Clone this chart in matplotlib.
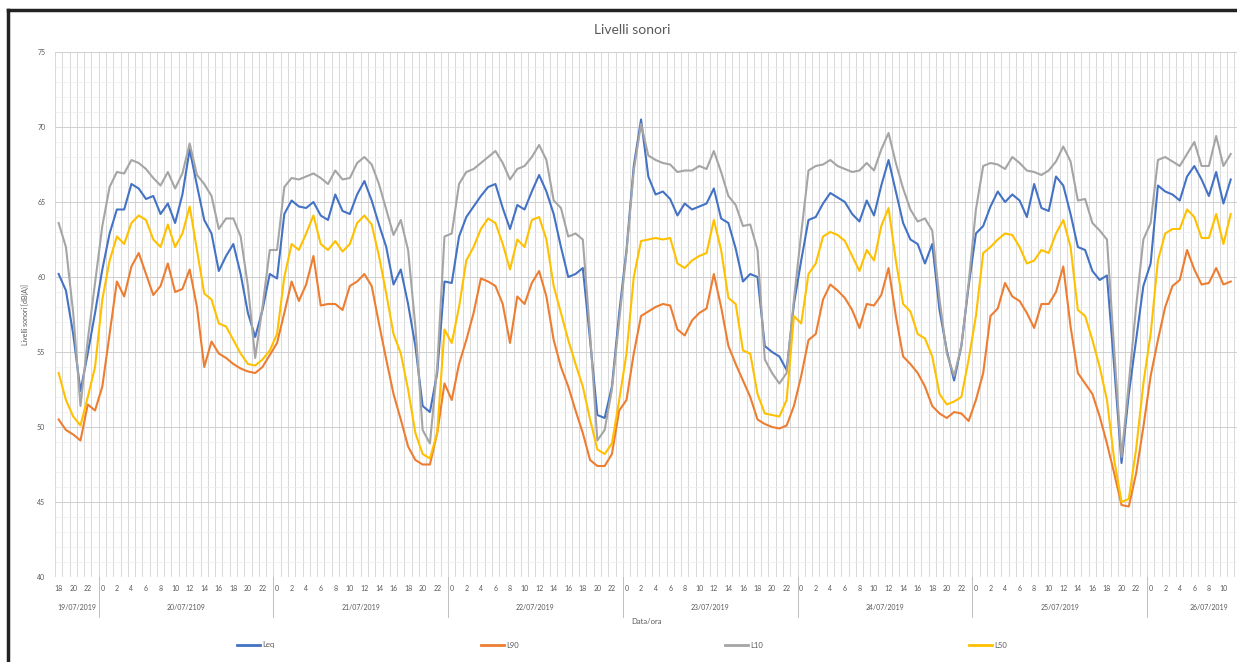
import matplotlib
matplotlib.use("Agg")
import matplotlib.pyplot as plt
import matplotlib.transforms as mtransforms
from matplotlib.lines import Line2D

plt.rcParams['font.family'] = ['Lato', 'DejaVu Sans']

# ---------------- data ----------------
series_names = ["Leq", "L90", "L10", "L50"]
series_colors = ["#4472C4", "#ED7D31", "#A5A5A5", "#FFC000"]

day_labels = ["19/07/2019", "20/07/2109", "21/07/2019", "22/07/2019",
              "23/07/2019", "24/07/2019", "25/07/2019", "26/07/2019"]
day_first_hour = [18, 0, 0, 0, 0, 0, 0, 0]
day_last_hour = [23, 23, 23, 23, 23, 23, 23, 16]

leq = [60.2, 59.1, 56.2, 52.4, 54.9, 57.6, 60.5, 62.9, 64.5, 64.5, 66.2, 65.9, 65.2, 65.4, 64.2, 64.9,
       63.6, 65.5, 68.5, 66.1, 63.8, 62.9, 60.4, 61.4, 62.2, 60.2, 57.6, 56.0, 57.8, 60.2, 59.9, 64.2,
       65.1, 64.7, 64.6, 65.0, 64.1, 63.8, 65.5, 64.4, 64.2, 65.5, 66.4, 65.1, 63.5, 62.0, 59.5, 60.5,
       58.2, 55.4, 51.4, 51.0, 53.6, 59.7, 59.6, 62.7, 64.0, 64.7, 65.4, 66.0, 66.2, 64.6, 63.2, 64.8,
       64.5, 65.7, 66.8, 65.7, 64.2, 62.0, 60.0, 60.2, 60.6, 55.8, 50.8, 50.6, 52.7, 57.6, 61.8, 67.4,
       70.5, 66.7, 65.5, 65.7, 65.2, 64.1, 64.9, 64.5, 64.7, 64.9, 65.9, 63.9, 63.6, 61.9, 59.7, 60.2,
       60.0, 55.4, 55.0, 54.7, 53.8, 58.2, 61.1, 63.8, 64.0, 64.9, 65.6, 65.3, 65.0, 64.2, 63.7, 65.1,
       64.1, 66.1, 67.8, 65.7, 63.6, 62.5, 62.2, 60.9, 62.2, 57.8, 55.1, 53.1, 55.4, 59.4, 62.9, 63.4,
       64.7, 65.7, 65.0, 65.5, 65.1, 64.0, 66.2, 64.6, 64.4, 66.7, 66.1, 64.2, 62.0, 61.8, 60.4, 59.8,
       60.1, 54.0, 47.6, 52.2, 55.8, 59.4, 60.9, 66.1, 65.7, 65.5, 65.1, 66.7, 67.4, 66.5, 65.4, 67.0,
       64.9, 66.5]

l90 = [50.5, 49.8, 49.5, 49.1, 51.5, 51.1, 52.7, 56.2, 59.7, 58.7, 60.7, 61.6, 60.2, 58.8, 59.4, 60.9,
       59.0, 59.2, 60.5, 58.0, 54.0, 55.7, 54.9, 54.6, 54.2, 53.9, 53.7, 53.6, 54.0, 54.8, 55.6, 57.6,
       59.7, 58.4, 59.5, 61.4, 58.1, 58.2, 58.2, 57.8, 59.4, 59.7, 60.2, 59.4, 56.9, 54.5, 52.2, 50.5,
       48.7, 47.8, 47.5, 47.5, 49.6, 52.9, 51.8, 54.2, 55.8, 57.6, 59.9, 59.7, 59.4, 58.2, 55.6, 58.7,
       58.2, 59.6, 60.4, 58.7, 55.8, 54.0, 52.7, 51.1, 49.6, 47.8, 47.4, 47.4, 48.2, 51.1, 51.8, 54.9,
       57.4, 57.7, 58.0, 58.2, 58.1, 56.5, 56.1, 57.1, 57.6, 57.9, 60.2, 58.0, 55.4, 54.2, 53.1, 52.0,
       50.5, 50.2, 50.0, 49.9, 50.1, 51.4, 53.4, 55.8, 56.2, 58.5, 59.5, 59.1, 58.6, 57.8, 56.6, 58.2,
       58.1, 58.8, 60.6, 57.4, 54.7, 54.2, 53.6, 52.7, 51.4, 50.9, 50.6, 51.0, 50.9, 50.4, 51.8, 53.6,
       57.4, 57.9, 59.6, 58.7, 58.4, 57.6, 56.6, 58.2, 58.2, 59.0, 60.7, 56.7, 53.6, 52.9, 52.2, 50.7,
       48.9, 46.9, 44.8, 44.7, 46.9, 50.0, 53.4, 55.8, 58.0, 59.4, 59.8, 61.8, 60.5, 59.5, 59.6, 60.6,
       59.5, 59.7]

l10 = [63.6, 62.0, 57.6, 51.4, 55.8, 59.6, 63.4, 66.0, 67.0, 66.9, 67.8, 67.6, 67.2, 66.6, 66.1, 67.0,
       65.9, 66.9, 68.9, 66.8, 66.2, 65.4, 63.2, 63.9, 63.9, 62.7, 59.4, 54.6, 58.0, 61.8, 61.8, 66.0,
       66.6, 66.5, 66.7, 66.9, 66.6, 66.2, 67.1, 66.5, 66.6, 67.6, 68.0, 67.5, 66.2, 64.5, 62.8, 63.8,
       61.8, 56.7, 49.8, 48.9, 54.0, 62.7, 62.9, 66.2, 67.0, 67.2, 67.6, 68.0, 68.4, 67.6, 66.5, 67.2,
       67.4, 68.0, 68.8, 67.8, 65.1, 64.6, 62.7, 62.9, 62.5, 56.2, 49.1, 49.8, 52.5, 57.1, 61.6, 67.1,
       70.2, 68.1, 67.8, 67.6, 67.5, 67.0, 67.1, 67.1, 67.4, 67.2, 68.4, 67.0, 65.4, 64.8, 63.4, 63.5,
       61.8, 54.5, 53.6, 52.9, 53.6, 58.5, 62.9, 67.1, 67.4, 67.5, 67.8, 67.4, 67.2, 67.0, 67.1, 67.6,
       67.1, 68.5, 69.6, 67.6, 65.9, 64.5, 63.7, 63.9, 63.1, 58.5, 54.9, 53.4, 55.4, 59.6, 64.5, 67.4,
       67.6, 67.5, 67.2, 68.0, 67.6, 67.1, 67.0, 66.8, 67.1, 67.7, 68.7, 67.7, 65.1, 65.2, 63.6, 63.1,
       62.5, 55.1, 48.0, 52.9, 58.0, 62.5, 63.6, 67.8, 68.0, 67.7, 67.4, 68.2, 69.0, 67.4, 67.4, 69.4,
       67.4, 68.2]

l50 = [53.6, 51.8, 50.7, 50.1, 52.0, 54.0, 58.5, 61.1, 62.7, 62.2, 63.6, 64.1, 63.8, 62.5, 62.0, 63.5,
       62.0, 62.9, 64.7, 61.8, 58.9, 58.5, 56.9, 56.7, 55.8, 54.9, 54.2, 54.1, 54.5, 55.1, 56.2, 60.0,
       62.2, 61.8, 62.9, 64.1, 62.2, 61.8, 62.4, 61.7, 62.2, 63.6, 64.1, 63.5, 61.4, 58.9, 56.2, 54.9,
       52.5, 49.6, 48.2, 47.9, 49.6, 56.5, 55.6, 58.0, 61.1, 62.0, 63.2, 63.9, 63.6, 62.2, 60.5, 62.5,
       62.0, 63.8, 64.0, 62.5, 59.4, 57.6, 55.8, 54.2, 52.7, 50.5, 48.5, 48.2, 48.9, 51.8, 54.9, 60.0,
       62.4, 62.5, 62.6, 62.5, 62.6, 60.9, 60.6, 61.1, 61.4, 61.6, 63.8, 61.8, 58.6, 58.2, 55.1, 54.9,
       52.2, 50.9, 50.8, 50.7, 51.8, 57.4, 56.9, 60.2, 60.9, 62.7, 63.0, 62.8, 62.4, 61.4, 60.4, 61.8,
       61.1, 63.4, 64.6, 61.1, 58.2, 57.7, 56.2, 55.9, 54.7, 52.2, 51.5, 51.7, 52.0, 54.5, 57.4, 61.6,
       62.0, 62.5, 62.9, 62.8, 62.0, 60.9, 61.1, 61.8, 61.6, 62.9, 63.8, 62.0, 57.8, 57.4, 55.8, 54.0,
       51.8, 47.8, 45.0, 45.2, 48.5, 52.9, 56.2, 61.1, 62.9, 63.2, 63.2, 64.5, 64.0, 62.6, 62.6, 64.2,
       62.2, 64.2]

y_ticks = [40, 45, 50, 55, 60, 65, 70, 75]

# -------------- categories --------------
hours = []
cat_day = []
for d, (h0, h1) in enumerate(zip(day_first_hour, day_last_hour)):
    for h in range(h0, h1 + 1):
        hours.append(h)
        cat_day.append(d)
n_cat = len(hours)
x = list(range(len(leq)))

# -------------- figure --------------
W, H = 1237, 662
fig = plt.figure(figsize=(W / 100, H / 100), dpi=100)
px = 7.28  # pixels per category
ax_left, ax_top, ax_bottom = 55, 52, 577
ax = fig.add_axes([ax_left / W, 1 - ax_bottom / H, n_cat * px / W, (ax_bottom - ax_top) / H])

text_col = "#595959"

for vals, name, col in zip([leq, l90, l10, l50], series_names, series_colors):
    ax.plot(x, vals, color=col, lw=1.5, label=name, solid_joinstyle="round", zorder=3)

ax.set_xlim(-0.5, n_cat - 0.5)
ax.set_ylim(40, 75)

# grid
ax.set_yticks(y_ticks)
ax.set_yticklabels([str(v) for v in y_ticks], fontsize=5, color=text_col)
ax.set_yticks(range(40, 76), minor=True)
ax.grid(axis="y", which="major", color="#CFCFCF", lw=0.7, zorder=1)
ax.grid(axis="y", which="minor", color="#EDEDED", lw=0.5, zorder=0)
for k in range(n_cat + 1):
    ax.axvline(k - 0.5, color="#D2D2D2", lw=0.6, zorder=1)

# hour labels (only those that fit inside the visible picture)
even_pos = [i for i, h in enumerate(hours)
            if h % 2 == 0 and ax_left + (i + 0.5) * px < W - 8]
ax.set_xticks(even_pos)
ax.set_xticklabels([str(hours[i]) for i in even_pos], fontsize=5, color=text_col)
ax.tick_params(axis="both", which="both", length=0)
ax.tick_params(axis="x", pad=6)
ax.tick_params(axis="y", pad=7)
for s in ax.spines.values():
    s.set_visible(False)

ax.set_ylabel("Livelli sonori [dB(A)]", fontsize=5, color=text_col, labelpad=6)

# date labels and separators
trans = mtransforms.blended_transform_factory(ax.transData, ax.transAxes)
ax_h = ax_bottom - ax_top
start = 0
for d, lab in enumerate(day_labels):
    cnt = cat_day.count(d)
    center = start + (cnt - 1) / 2
    ax.text(center, -(607 - ax_bottom) / ax_h, lab, transform=trans, ha="center", va="center",
            fontsize=5, color=text_col, clip_on=False)
    if d > 0:
        ax.plot([start - 0.5, start - 0.5], [0, -(617 - ax_bottom) / ax_h], transform=trans,
                color="#BFBFBF", lw=0.7, clip_on=False)
    start += cnt

fig.text(647 / W, 1 - 622 / H, "Data/ora", ha="center", va="center", fontsize=5.5, color=text_col)
fig.text(632 / W, 1 - 30 / H, "Livelli sonori", ha="center", va="center", fontsize=10, color=text_col)

leg = fig.legend(loc="center", bbox_to_anchor=(622 / W, 1 - 645 / H), ncol=4, frameon=False,
                 fontsize=5.5, handlelength=3.0, handletextpad=0.3, columnspacing=27)
for t in leg.get_texts():
    t.set_color(text_col)
for l in leg.get_lines():
    l.set_linewidth(2)

# screenshot frame (left and top dark border)
fig.add_artist(Line2D([8 / W, 8 / W], [0, 1 - 10 / H], color="#222222", lw=2.5))
fig.add_artist(Line2D([8 / W, 1], [1 - 10 / H, 1 - 10 / H], color="#222222", lw=2.5))

fig.savefig("out.png", dpi=100)
